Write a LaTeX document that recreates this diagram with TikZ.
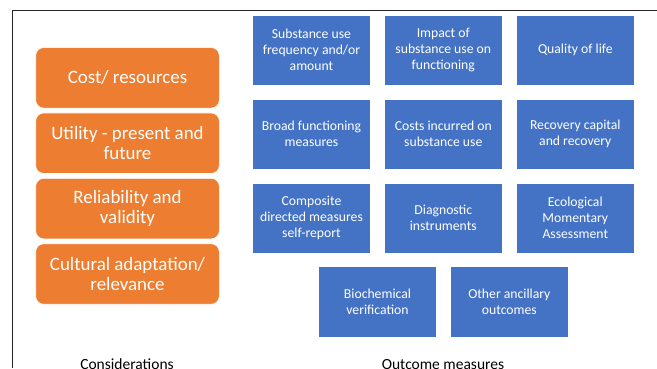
\documentclass[tikz,border=0pt]{standalone}
\usepackage{fontspec}
\setmainfont{Carlito}
\definecolor{obox}{HTML}{ED7D31}
\definecolor{bbox}{HTML}{4472C4}
\begin{document}
\begin{tikzpicture}[x=1pt,y=-1pt,
  bluebox/.style={rectangle,fill=bbox,draw=white,line width=0.6pt,minimum width=118.5pt,minimum height=70.3pt,inner sep=2pt,align=center,text=white,font=\fontsize{13.7}{16}\selectfont},
  orangebox/.style={rectangle,rounded corners=8pt,fill=obox,draw=white,line width=0.6pt,minimum width=183.6pt,minimum height=60.5pt,inner sep=2pt,align=center,text=white,font=\fontsize{18.9}{20.5}\selectfont},
  caption/.style={font=\fontsize{15.5}{18}\selectfont,text=black}]
\useasboundingbox (0,0) rectangle (657,368);
\draw[line width=1pt,black!85] (12,368) -- (12,10.5) -- (657,10.5);
% orange
\node[orangebox] (o1) at (127.5,77.8) {Cost/ resources};
\node[orangebox] (o2) at (127.5,143.2) {Utility - present and\\future};
\node[orangebox] (o3) at (127.5,208.6) {Reliability and\\validity};
\node[orangebox] (o4) at (127.5,274.0) {Cultural adaptation/\\relevance};
% blue
\node[bluebox] (b11) at (311.5,50.2) {Substance use\\frequency and/or\\amount};
\node[bluebox] (b12) at (443.3,50.2) {Impact of\\substance use on\\functioning};
\node[bluebox] (b13) at (575.3,50.2) {Quality of life};
\node[bluebox] (b21) at (311.5,134.1) {Broad functioning\\measures};
\node[bluebox] (b22) at (443.3,134.1) {Costs incurred on\\substance use};
\node[bluebox] (b23) at (575.3,134.1) {Recovery capital\\and recovery};
\node[bluebox] (b31) at (311.5,218) {Composite\\directed measures\\self-report};
\node[bluebox] (b32) at (443.3,218) {Diagnostic\\instruments};
\node[bluebox] (b33) at (575.3,218) {Ecological\\Momentary\\Assessment};
\node[bluebox] (b41) at (377.5,301.7) {Biochemical\\verification};
\node[bluebox] (b42) at (509.4,301.7) {Other ancillary\\outcomes};
% captions
\node[caption] (c1) at (127,364.5) {Considerations};
\node[caption] (c2) at (443,364.5) {Outcome measures};
\end{tikzpicture}
\end{document}
